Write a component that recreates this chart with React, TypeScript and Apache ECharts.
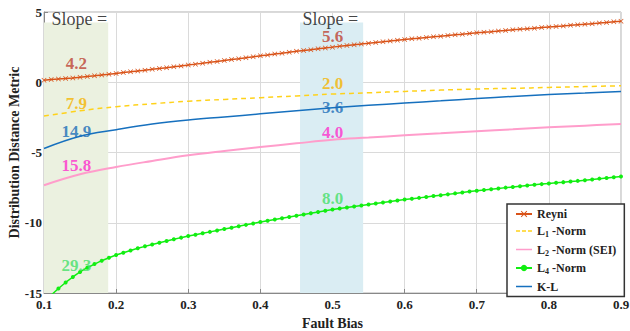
import React, { useEffect, useRef } from "react";
import * as echarts from "echarts";

// x positions
const xFine: number[] = Array.from({ length: 81 }, (_, i) => Math.round((0.1 + i * 0.01) * 100) / 100);
const xCoarse: number[] = Array.from({ length: 17 }, (_, i) => Math.round((0.1 + i * 0.05) * 100) / 100);

// Reyni (every 0.01)
const reyni: number[] = [
  0.15, 0.19, 0.23, 0.27, 0.31, 0.36, 0.41, 0.46, 0.52, 0.57,
  0.63, 0.69, 0.74, 0.80, 0.86, 0.92, 0.98, 1.04, 1.10, 1.16,
  1.22, 1.29, 1.35, 1.42, 1.48, 1.55, 1.62, 1.68, 1.75, 1.81,
  1.88, 1.94, 2.01, 2.07, 2.14, 2.20, 2.26, 2.32, 2.38, 2.44,
  2.50, 2.56, 2.61, 2.67, 2.72, 2.78, 2.83, 2.88, 2.94, 2.99,
  3.04, 3.09, 3.14, 3.18, 3.23, 3.28, 3.33, 3.38, 3.42, 3.47,
  3.52, 3.56, 3.60, 3.65, 3.69, 3.73, 3.77, 3.81, 3.85, 3.89,
  3.93, 3.97, 4.01, 4.05, 4.09, 4.13, 4.17, 4.21, 4.26, 4.30,
  4.34,
];

// L4-Norm (every 0.01)
const l4Norm: number[] = [
  -15.7, -15.15, -14.68, -14.25, -13.86, -13.5, -13.2, -12.94, -12.7, -12.49,
  -12.3, -12.13, -11.98, -11.82, -11.68, -11.55, -11.42, -11.3, -11.18, -11.06,
  -10.95, -10.85, -10.75, -10.65, -10.55, -10.45, -10.35, -10.25, -10.15, -10.05,
  -9.95, -9.86, -9.77, -9.68, -9.59, -9.5, -9.41, -9.32, -9.23, -9.14,
  -9.05, -8.98, -8.91, -8.84, -8.77, -8.7, -8.63, -8.56, -8.49, -8.42,
  -8.35, -8.29, -8.23, -8.16, -8.1, -8.04, -7.98, -7.91, -7.85, -7.78,
  -7.72, -7.67, -7.61, -7.56, -7.5, -7.45, -7.4, -7.35, -7.3, -7.25,
  -7.2, -7.15, -7.11, -7.06, -7.02, -6.97, -6.92, -6.86, -6.81, -6.76,
  -6.71,
];

// every 0.05
const l1Norm: number[] = [-2.41, -2.03, -1.74, -1.53, -1.35, -1.22, -1.1, -0.97, -0.84, -0.75, -0.65, -0.56, -0.48, -0.43, -0.37, -0.31, -0.25];
const l2Norm: number[] = [-7.33, -6.55, -6.03, -5.6, -5.2, -4.89, -4.61, -4.35, -4.1, -3.94, -3.78, -3.63, -3.48, -3.35, -3.21, -3.09, -2.97];
const kl: number[] = [-4.72, -3.85, -3.38, -2.97, -2.68, -2.47, -2.25, -2.03, -1.82, -1.64, -1.48, -1.32, -1.16, -1.01, -0.87, -0.76, -0.65];

// slope annotations: [Reyni, L1, K-L, L2, L4]
const slopeLeft: number[] = [4.2, 7.9, 14.9, 15.8, 29.3];
const slopeMid: number[] = [5.6, 2.0, 3.6, 4.0, 8.0];
const slopeLeftY: number[] = [1.3, -1.54, -3.53, -5.91, -13.05];
const slopeMidY: number[] = [3.25, -0.08, -1.79, -3.57, -8.29];
const slopeLeftX = 0.145;
const slopeMidX = 0.5;
const slopeTitle = "Slope =";
const slopeTitleX: number[] = [0.149, 0.497];
const slopeTitleY = 4.53;

// shaded bands
const bandLeft: [number, number] = [0.1, 0.189];
const bandMid: [number, number] = [0.455, 0.5425];
const bandTop = 4.25;

const SERIF = "Liberation Serif";

const slopeColors = ["#BD4232", "#F5B400", "#1B6EB8", "#FF2ECC", "#45E068"];

const LINE_ICON = "path://M0,0H16V0.01H0Z M0,3.3H16V4.8H0Z M0,8H16V8.01H0Z";
const DASH_ICON = "path://M0,0H16V0.01H0Z M0,3.3H4V4.8H0Z M6,3.3H10V4.8H6Z M12,3.3H16V4.8H12Z M0,8H16V8.01H0Z";

function App() {
  const ref = useRef<HTMLDivElement>(null);
  useEffect(() => {
    if (!ref.current) return;
    const chart = echarts.init(ref.current, undefined, { renderer: "svg" });
    const pair = (xs: number[], ys: number[]) => xs.map((x, i) => [x, ys[i]]);

    const labelSeries = (k: number) => ({
      name: "slope" + k,
      type: "scatter",
      symbolSize: 0,
      silent: true,
      z: 5,
      data: [
        [slopeLeftX, slopeLeftY[k], slopeLeft[k].toFixed(1)],
        [slopeMidX, slopeMidY[k], slopeMid[k].toFixed(1)],
      ],
      label: {
        show: true,
        position: "inside",
        fontFamily: SERIF,
        fontWeight: "bold",
        fontSize: 17,
        color: slopeColors[k],
        textBorderWidth: 0,
        textBorderColor: "transparent",
        formatter: (p: any) => p.value[2],
      },
    });

    const rich = {
      b: { fontFamily: SERIF, fontWeight: "bold", fontSize: 12, color: "#222" },
      s: { fontFamily: SERIF, fontWeight: "bold", fontSize: 8, color: "#222", padding: [7, 0, 0, 0] },
    };

    chart.setOption({
      animation: false,
      textStyle: { fontFamily: SERIF },
      grid: {
        left: 44,
        right: 9,
        top: 12,
        bottom: 38,
        show: true,
        borderColor: "#b0b0b0",
        borderWidth: 1,
        containLabel: false,
        outerBoundsMode: "none",
      },
      xAxis: {
        type: "value",
        min: 0.1,
        max: 0.9,
        interval: 0.1,
        name: "Fault Bias",
        nameLocation: "middle",
        nameGap: 23,
        nameMoveOverlap: false,
        nameTextStyle: { fontFamily: SERIF, fontWeight: "bold", fontSize: 14, color: "#222" },
        axisLine: { show: true, onZero: false, lineStyle: { color: "#888" } },
        axisTick: { show: true, inside: true, length: 4, lineStyle: { color: "#888" } },
        axisLabel: {
          fontFamily: SERIF,
          fontWeight: "bold",
          fontSize: 13,
          color: "#222",
          margin: 5,
          formatter: (v: number) => v.toFixed(1),
        },
        splitLine: { show: true, lineStyle: { color: "#dadada" } },
      },
      yAxis: {
        type: "value",
        min: -15,
        max: 5,
        interval: 5,
        name: "Distribution Distance Metric",
        nameLocation: "middle",
        nameGap: 23,
        nameMoveOverlap: false,
        nameTextStyle: { fontFamily: SERIF, fontWeight: "bold", fontSize: 14, color: "#222" },
        axisLine: { show: true, onZero: false, lineStyle: { color: "#888" } },
        axisTick: { show: true, inside: true, length: 4, lineStyle: { color: "#888" } },
        axisLabel: { fontFamily: SERIF, fontWeight: "bold", fontSize: 13, color: "#222", margin: 2 },
        splitLine: { show: true, lineStyle: { color: "#dadada" } },
      },
      legend: {
        orient: "vertical",
        left: 507,
        top: 204,
        itemWidth: 16,
        itemHeight: 8,
        itemGap: 5,
        padding: [4, 8, 4, 8],
        borderColor: "#333",
        borderWidth: 1.5,
        backgroundColor: "#fff",
        data: [
          { name: "Reyni" },
          { name: "L1-Norm", icon: DASH_ICON },
          { name: "L2-Norm (SEI)", icon: LINE_ICON },
          { name: "L4-Norm" },
          { name: "K-L", icon: LINE_ICON },
        ],
        textStyle: { fontFamily: SERIF, fontWeight: "bold", fontSize: 12, color: "#222", rich },
        formatter: (name: string) => {
          if (name === "L1-Norm") return "{b|L}{s|1}{b| -Norm}";
          if (name === "L2-Norm (SEI)") return "{b|L}{s|2}{b| -Norm (SEI)}";
          if (name === "L4-Norm") return "{b|L}{s|4}{b| -Norm}";
          return "{b|" + name + "}";
        },
      },
      series: [
        {
          name: "bands",
          type: "line",
          data: [],
          z: -1,
          silent: true,
          markArea: {
            silent: true,
            itemStyle: { color: "#EBF1E0" },
            data: [
              [
                { coord: [bandLeft[0], bandTop], itemStyle: { color: "#EBF1E0" } },
                { coord: [bandLeft[1], -15] },
              ],
              [
                { coord: [bandMid[0], bandTop], itemStyle: { color: "#DAEDF3" } },
                { coord: [bandMid[1], -15] },
              ],
            ],
          },
        },
        {
          name: "slopeTitle",
          type: "scatter",
          symbolSize: 0,
          silent: true,
          z: 5,
          data: slopeTitleX.map((x) => [x, slopeTitleY, slopeTitle]),
          label: {
            show: true,
            position: "inside",
            fontFamily: SERIF,
            fontSize: 18,
            color: "#111",
            textBorderWidth: 0,
            textBorderColor: "transparent",
            formatter: (p: any) => p.value[2],
          },
        },
        {
          name: "Reyni",
          type: "line",
          data: pair(xFine, reyni),
          color: "#D95319",
          lineStyle: { width: 1.5, color: "#D95319" },
          symbol: "path://M0,1L1,0L5,4L9,0L10,1L6,5L10,9L9,10L5,6L1,10L0,9L4,5Z",
          symbolSize: 5,
          showSymbol: true,
          itemStyle: { color: "#D95319" },
        },
        {
          name: "L1-Norm",
          type: "line",
          smooth: 0.4,
          data: pair(xCoarse, l1Norm),
          color: "#FFD21A",
          lineStyle: { width: 1.5, color: "#FFD21A", type: [5, 4] },
          symbol: "none",
        },
        {
          name: "K-L",
          type: "line",
          smooth: 0.4,
          data: pair(xCoarse, kl),
          color: "#1670BE",
          lineStyle: { width: 1.5, color: "#1670BE" },
          symbol: "none",
        },
        {
          name: "L2-Norm (SEI)",
          type: "line",
          smooth: 0.4,
          data: pair(xCoarse, l2Norm),
          color: "#FF9DCB",
          lineStyle: { width: 2, color: "#FF9DCB" },
          symbol: "none",
        },
        {
          name: "L4-Norm",
          type: "line",
          data: pair(xFine, l4Norm),
          color: "#11EE11",
          lineStyle: { width: 1.5, color: "#11EE11" },
          symbol: "circle",
          symbolSize: 4,
          itemStyle: { color: "#11EE11" },
        },
        labelSeries(0),
        labelSeries(1),
        labelSeries(2),
        labelSeries(3),
        labelSeries(4),
      ],
    });
    return () => chart.dispose();
  }, []);
  return <div ref={ref} style={{ width: 630, height: 331, position: "absolute", left: 0, top: 0 }} />;
}

export default App;
